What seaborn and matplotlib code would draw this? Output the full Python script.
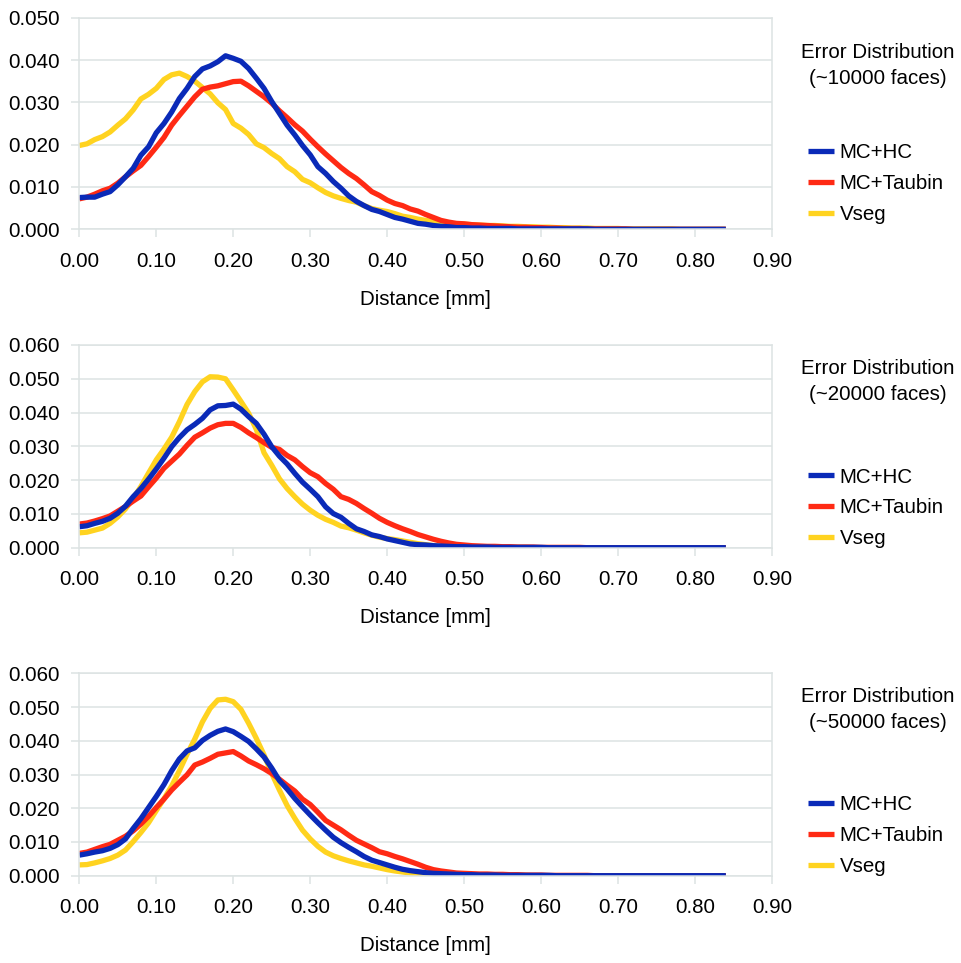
import numpy as np
import pandas as pd
import matplotlib
matplotlib.use("Agg")
import matplotlib.pyplot as plt
import seaborn as sns

# ---------------- data ----------------
distance = np.round(np.arange(0, 0.845, 0.01), 2)   # 0.00 .. 0.84
series_names = ["MC+HC", "MC+Taubin", "Vseg"]
panel_titles = ["Error Distribution\n(~10000 faces)",
                "Error Distribution\n(~20000 faces)",
                "Error Distribution\n(~50000 faces)"]
x_ticks = [0.00, 0.10, 0.20, 0.30, 0.40, 0.50, 0.60, 0.70, 0.80, 0.90]
y_ticks_1 = [0.000, 0.010, 0.020, 0.030, 0.040, 0.050]
y_ticks_23 = [0.000, 0.010, 0.020, 0.030, 0.040, 0.050, 0.060]

# ---- ~10000 faces ----
hc_10k = [0.0075, 0.0076, 0.0076, 0.0083, 0.0089, 0.0105, 0.0124, 0.0144, 0.0175, 0.0195,
          0.0228, 0.0250, 0.0277, 0.0309, 0.0333, 0.0361, 0.0379, 0.0386, 0.0396, 0.0410,
          0.0404, 0.0397, 0.0380, 0.0357, 0.0333, 0.0302, 0.0274, 0.0246, 0.0223, 0.0198,
          0.0176, 0.0148, 0.0132, 0.0113, 0.0097, 0.0079, 0.0066, 0.0056, 0.0047, 0.0042,
          0.0035, 0.0028, 0.0024, 0.0019, 0.0014, 0.0012, 0.0009, 0.0007, 0.0006, 0.0004,
          0.0004,
          0.0003, 0.0003, 0.0002, 0.0002, 0.0002, 0.0002, 0.0001, 0.0001, 0.0001, 0.0001,
          0.0001, 0.0001, 0.0001, 0.0001, 0.0001, 0.0001] + [0.0] * 18
taubin_10k = [0.0072, 0.0076, 0.0083, 0.0091, 0.0097, 0.0109, 0.0124, 0.0138, 0.0151, 0.0172,
              0.0194, 0.0217, 0.0246, 0.0269, 0.0291, 0.0313, 0.0331, 0.0336, 0.0339, 0.0344,
              0.0349, 0.0350, 0.0339, 0.0326, 0.0313, 0.0298, 0.0280, 0.0264, 0.0247, 0.0232,
              0.0213, 0.0195, 0.0178, 0.0162, 0.0146, 0.0132, 0.0120, 0.0105, 0.0089, 0.0080,
              0.0069, 0.0061, 0.0056, 0.0048, 0.0043, 0.0035, 0.0028, 0.0021, 0.0017, 0.0014,
              0.0013,
              0.0011, 0.0010, 0.0009, 0.0008, 0.0007, 0.0006, 0.0005, 0.0005, 0.0004, 0.0004,
              0.0003, 0.0003, 0.0002, 0.0002, 0.0002, 0.0001, 0.0001, 0.0001, 0.0001, 0.0001,
              0.0001] + [0.0] * 13
vseg_10k = [0.0198, 0.0202, 0.0212, 0.0219, 0.0230, 0.0246, 0.0261, 0.0282, 0.0308, 0.0319,
            0.0333, 0.0354, 0.0365, 0.0369, 0.0361, 0.0350, 0.0335, 0.0320, 0.0299, 0.0283,
            0.0250, 0.0239, 0.0224, 0.0202, 0.0193, 0.0179, 0.0167, 0.0148, 0.0136, 0.0118,
            0.0110, 0.0098, 0.0087, 0.0079, 0.0073, 0.0068, 0.0064, 0.0056, 0.0049, 0.0045,
            0.0042, 0.0037, 0.0031, 0.0028, 0.0024, 0.0021, 0.0018, 0.0015, 0.0013, 0.0013,
            0.0012,
            0.0011, 0.0010, 0.0009, 0.0009, 0.0008, 0.0007, 0.0007, 0.0006, 0.0006, 0.0005,
            0.0005, 0.0004, 0.0004, 0.0003, 0.0003, 0.0003, 0.0002, 0.0002, 0.0002, 0.0002,
            0.0001, 0.0001, 0.0001, 0.0001, 0.0001, 0.0001, 0.0001] + [0.0] * 7

# ---- ~20000 faces ----
hc_20k = [0.0062, 0.0065, 0.0072, 0.0078, 0.0087, 0.0102, 0.0123, 0.0151, 0.0175, 0.0203,
          0.0233, 0.0265, 0.0299, 0.0326, 0.0349, 0.0365, 0.0383, 0.0408, 0.0420, 0.0421,
          0.0425, 0.0410, 0.0388, 0.0368, 0.0336, 0.0299, 0.0271, 0.0248, 0.0220, 0.0194,
          0.0173, 0.0151, 0.0121, 0.0101, 0.0090, 0.0072, 0.0056, 0.0048, 0.0038, 0.0033,
          0.0026, 0.0021, 0.0016, 0.0011, 0.0009, 0.0008, 0.0006, 0.0005, 0.0004, 0.0003,
          0.0003,
          0.0002, 0.0002, 0.0002, 0.0001, 0.0001, 0.0001, 0.0001, 0.0001, 0.0001, 0.0001] + [0.0] * 24
taubin_20k = [0.0070, 0.0073, 0.0079, 0.0086, 0.0094, 0.0108, 0.0122, 0.0138, 0.0153, 0.0180,
              0.0206, 0.0235, 0.0256, 0.0277, 0.0303, 0.0327, 0.0340, 0.0354, 0.0364, 0.0368,
              0.0368, 0.0356, 0.0340, 0.0326, 0.0311, 0.0297, 0.0291, 0.0273, 0.0260, 0.0240,
              0.0222, 0.0210, 0.0190, 0.0173, 0.0151, 0.0143, 0.0131, 0.0116, 0.0102, 0.0087,
              0.0075, 0.0065, 0.0056, 0.0048, 0.0039, 0.0032, 0.0025, 0.0019, 0.0014, 0.0010,
              0.0008,
              0.0006, 0.0005, 0.0004, 0.0004, 0.0003, 0.0003, 0.0002, 0.0002, 0.0002, 0.0001,
              0.0001, 0.0001, 0.0001, 0.0001, 0.0001] + [0.0] * 19
vseg_20k = [0.0044, 0.0046, 0.0052, 0.0058, 0.0072, 0.0091, 0.0115, 0.0146, 0.0181, 0.0221,
            0.0260, 0.0292, 0.0327, 0.0373, 0.0424, 0.0462, 0.0491, 0.0506, 0.0505, 0.0500,
            0.0467, 0.0433, 0.0398, 0.0350, 0.0281, 0.0244, 0.0204, 0.0175, 0.0151, 0.0129,
            0.0111, 0.0096, 0.0084, 0.0075, 0.0064, 0.0059, 0.0052, 0.0044, 0.0037, 0.0031,
            0.0027, 0.0024, 0.0020, 0.0016, 0.0012, 0.0009, 0.0006, 0.0004, 0.0003, 0.0002,
            0.0002,
            0.0002, 0.0001, 0.0001, 0.0001, 0.0001, 0.0001, 0.0001, 0.0001] + [0.0] * 26

# ---- ~50000 faces ----
hc_50k = [0.0061, 0.0065, 0.0070, 0.0074, 0.0081, 0.0092, 0.0109, 0.0140, 0.0169, 0.0202,
          0.0235, 0.0270, 0.0311, 0.0346, 0.0370, 0.0379, 0.0401, 0.0416, 0.0428, 0.0435,
          0.0427, 0.0413, 0.0398, 0.0376, 0.0352, 0.0319, 0.0282, 0.0257, 0.0229, 0.0204,
          0.0180, 0.0157, 0.0135, 0.0114, 0.0098, 0.0084, 0.0071, 0.0057, 0.0046, 0.0039,
          0.0032, 0.0025, 0.0019, 0.0015, 0.0012, 0.0009, 0.0007, 0.0006, 0.0005, 0.0004,
          0.0003,
          0.0003, 0.0002, 0.0002, 0.0002, 0.0001, 0.0001, 0.0001, 0.0001, 0.0001, 0.0001,
          0.0001] + [0.0] * 23
taubin_50k = [0.0066, 0.0070, 0.0078, 0.0086, 0.0093, 0.0105, 0.0117, 0.0133, 0.0153, 0.0176,
              0.0202, 0.0227, 0.0254, 0.0277, 0.0299, 0.0328, 0.0337, 0.0348, 0.0360, 0.0364,
              0.0368, 0.0355, 0.0340, 0.0329, 0.0317, 0.0303, 0.0286, 0.0268, 0.0251, 0.0227,
              0.0211, 0.0188, 0.0164, 0.0150, 0.0136, 0.0120, 0.0105, 0.0094, 0.0083, 0.0071,
              0.0065, 0.0057, 0.0050, 0.0042, 0.0034, 0.0025, 0.0018, 0.0014, 0.0011, 0.0008,
              0.0007,
              0.0006, 0.0005, 0.0005, 0.0004, 0.0004, 0.0003, 0.0003, 0.0002, 0.0002, 0.0002,
              0.0001, 0.0001, 0.0001, 0.0001, 0.0001, 0.0001] + [0.0] * 18
vseg_50k = [0.0032, 0.0033, 0.0038, 0.0044, 0.0051, 0.0061, 0.0076, 0.0101, 0.0128, 0.0157,
            0.0193, 0.0228, 0.0266, 0.0311, 0.0360, 0.0405, 0.0456, 0.0496, 0.0521, 0.0523,
            0.0516, 0.0493, 0.0452, 0.0407, 0.0358, 0.0303, 0.0254, 0.0208, 0.0170, 0.0135,
            0.0109, 0.0087, 0.0070, 0.0059, 0.0051, 0.0044, 0.0038, 0.0032, 0.0028, 0.0023,
            0.0018, 0.0014, 0.0011, 0.0008, 0.0006, 0.0005, 0.0004, 0.0003, 0.0003, 0.0002,
            0.0002,
            0.0002, 0.0001, 0.0001, 0.0001, 0.0001, 0.0001, 0.0001, 0.0001] + [0.0] * 26

panels = [
    {"MC+HC": hc_10k, "MC+Taubin": taubin_10k, "Vseg": vseg_10k},
    {"MC+HC": hc_20k, "MC+Taubin": taubin_20k, "Vseg": vseg_20k},
    {"MC+HC": hc_50k, "MC+Taubin": taubin_50k, "Vseg": vseg_50k},
]

# ---------------- style ----------------
sns.set_theme(style="white")
plt.rcParams["font.family"] = ["Liberation Sans", "DejaVu Sans"]
plt.rcParams["text.color"] = "black"
plt.rcParams["axes.labelcolor"] = "black"
FS = 14.8
colors = {"MC+HC": "#0a2ab8", "MC+Taubin": "#ff2a14", "Vseg": "#ffd320"}
draw_order = ["Vseg", "MC+Taubin", "MC+HC"]
grid_c = "#dde3e3"

W, H = 961, 963
fig = plt.figure(figsize=(W / 100, H / 100), dpi=100)

# axes rectangles in pixels: (left, top, right, bottom)
rects = [(79.3, 17.7, 772.0, 229.3),
         (79.3, 345.0, 772.0, 547.7),
         (79.3, 673.3, 772.0, 875.7)]
yticks_list = [y_ticks_1, y_ticks_23, y_ticks_23]
title_y = [(52, 78), (368, 394), (696, 722)]
legend_top = [143.5, 467.5, 795.5]

for i, (rect, data) in enumerate(zip(rects, panels)):
    l, t, r, b = rect
    ax = fig.add_axes([l / W, 1 - b / H, (r - l) / W, (b - t) / H])
    df = pd.DataFrame({"Distance": distance, **data})
    long = df.melt(id_vars="Distance", var_name="Method", value_name="Error")
    for name in draw_order:
        sub = long[long["Method"] == name]
        sns.lineplot(data=sub, x="Distance", y="Error", ax=ax, color=colors[name],
                     lw=3.8, label=name, solid_joinstyle="round", solid_capstyle="butt")
    yt = yticks_list[i]
    ax.set_xlim(0, 0.90)
    ax.set_ylim(yt[0], yt[-1])
    ax.set_xticks(x_ticks)
    ax.set_xticklabels([f"{v:.2f}" for v in x_ticks])
    ax.set_yticks(yt)
    ax.set_yticklabels([f"{v:.3f}" for v in yt])
    ax.yaxis.grid(True, color=grid_c, lw=1.1)
    ax.xaxis.grid(False)
    for s in ax.spines.values():
        s.set_color(grid_c)
        s.set_linewidth(1.1)
    ax.tick_params(axis="both", which="major", labelsize=FS, colors=grid_c,
                   labelcolor="black", length=6, width=1.1, direction="out",
                   bottom=True, left=True)
    ax.tick_params(axis="x", pad=10.2)
    ax.tick_params(axis="y", pad=8)
    ax.set_xlabel("Distance [mm]", fontsize=FS, labelpad=13.8, color="black")
    ax.set_ylabel("")

    # legend (in MC+HC, MC+Taubin, Vseg order)
    handles, labels = ax.get_legend_handles_labels()
    hmap = dict(zip(labels, handles))
    ax.legend([hmap[n] for n in series_names], series_names,
              loc="upper left", bbox_to_anchor=(808 / W, 1 - legend_top[i] / H),
              bbox_transform=fig.transFigure, frameon=False, fontsize=FS,
              borderpad=0, borderaxespad=0, handlelength=1.25, handletextpad=0.3,
              labelspacing=0.57)
    t1, t2 = panel_titles[i].split("\n")
    fig.text(878 / W, 1 - title_y[i][0] / H, t1, ha="center", va="center", fontsize=FS)
    fig.text(878 / W, 1 - title_y[i][1] / H, t2, ha="center", va="center", fontsize=FS)

fig.savefig("out.png", dpi=100, facecolor="white")
